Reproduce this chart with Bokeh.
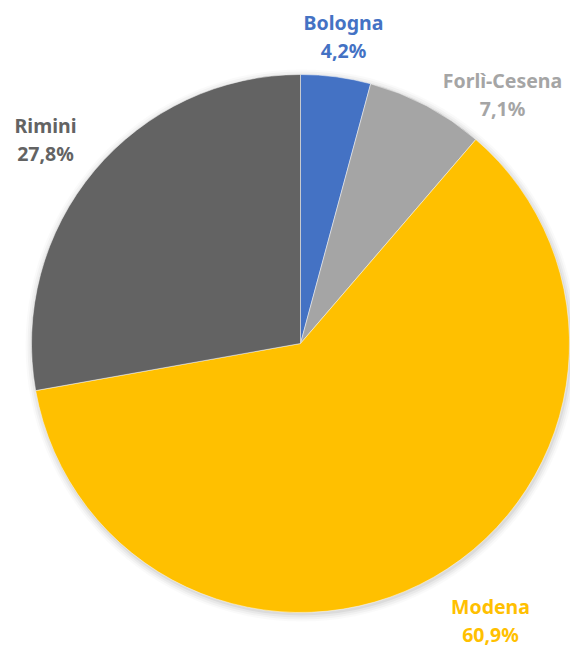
import math
from bokeh.plotting import figure
from bokeh.models import Range1d, ColumnDataSource
from bokeh.core.properties import value
from bokeh.embed import file_html
from bokeh.resources import INLINE

# ---- data ----
categories = ["Bologna", "Forlì-Cesena", "Modena", "Rimini"]
shares = [4.2, 7.1, 60.9, 27.8]
pct_labels = ["4,2%", "7,1%", "60,9%", "27,8%"]

# ---- style / layout ----
colors = ["#4472C4", "#A5A5A5", "#FFC000", "#636363"]
text_colors = ["#4472C4", "#A5A5A5", "#FFC000", "#636363"]
W, H = 570, 648
cx, cy = 300, H - 343
R = 269
# label centres in picture pixel coords (x, y of name line)
label_pos = [(343, 22), (502, 80), (490, 606), (45, 125)]
line_gap = 28

total = sum(shares)
starts, ends = [], []
acc = 0.0
for s in shares:
    starts.append(math.pi / 2 - 2 * math.pi * acc / total)
    acc += s
    ends.append(math.pi / 2 - 2 * math.pi * acc / total)

p = figure(width=W, height=H, output_backend="svg", toolbar_location=None,
           x_range=Range1d(0, W), y_range=Range1d(0, H), min_border=0)
p.axis.visible = False
p.grid.visible = False
p.outline_line_color = None
p.background_fill_color = "white"

# soft shadow
for i, a in enumerate([0.05, 0.04, 0.03, 0.02]):
    p.circle(x=[cx + 1], y=[cy - 2], radius=R + 1 + i * 2, fill_color="black",
             fill_alpha=a, line_color=None)

src = ColumnDataSource(dict(x=[cx] * 4, y=[cy] * 4, start=starts, end=ends,
                            color=colors, cat=categories))
p.wedge(x="x", y="y", radius=R, start_angle="start", end_angle="end",
        direction="clock", fill_color="color", line_color="white",
        line_width=0.8, line_alpha=0.6, source=src)

lx = [q[0] for q in label_pos]
ly1 = [H - q[1] for q in label_pos]
ly2 = [y - line_gap for y in ly1]
tsrc = ColumnDataSource(dict(x=lx, y1=ly1, y2=ly2, name=categories,
                             pct=pct_labels, c=text_colors))
for ycol, tcol in (("y1", "name"), ("y2", "pct")):
    p.text(x="x", y=ycol, text=tcol, text_color="c", source=tsrc,
           text_align="center", text_baseline="middle",
           text_font=value("Noto Sans"), text_font_style="bold",
           text_font_size="19.5px")

open("out.html", "w").write(file_html(p, INLINE))
